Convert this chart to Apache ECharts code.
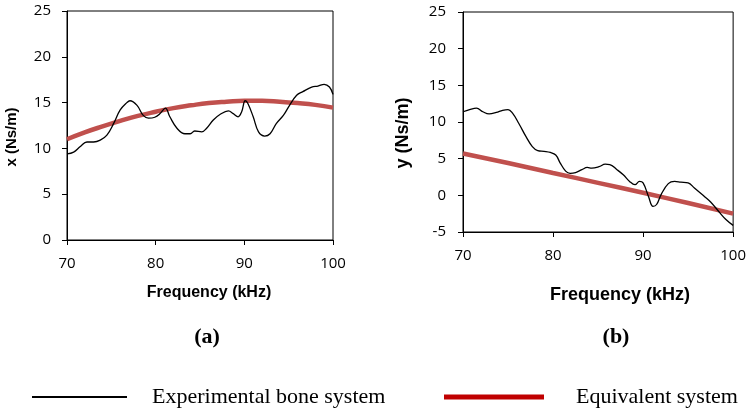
<!DOCTYPE html>
<html>
<head>
<meta charset="utf-8">
<script src="https://cdn.jsdelivr.net/npm/echarts@6/dist/echarts.min.js"></script>
<style>html,body{margin:0;padding:0;background:#fff}#c{width:749px;height:410px}</style>
</head>
<body>
<div id="c"></div>
<script>
// ---- data ----
var seriesNames = ['Experimental bone system', 'Equivalent system'];
var xTicks = [70, 80, 90, 100];

// (a) x (Ns/m)
var expFreqA = [70,70.75,71.5,72.25,73,73.75,74.5,75.25,76,76.75,77.1,77.9,78.6,79.2,79.9,80.5,81.1,81.6,82.4,83.3,83.9,84.4,85.2,85.75,86.5,87.25,88.2,88.75,89.3,89.7,90.1,90.4,91,91.6,92.3,92.9,93.6,94.4,95.1,95.9,96.6,97.6,98.3,99,99.6,100];
var expValA  = [9.4,9.6,10.2,10.7,10.7,10.9,11.45,12.7,14.2,15.0,15.2,14.7,13.6,13.3,13.4,13.8,14.4,13.45,12.2,11.6,11.6,11.9,11.8,12.2,13.1,13.7,14.1,13.8,13.45,14.0,15.2,14.9,13.45,11.8,11.35,11.6,12.7,13.6,14.7,15.8,16.2,16.7,16.8,17.0,16.7,15.9];
var eqFreqA  = [70,72,74,76,78,80,82,84,86,88,90,92,94,96,98,100];
var eqValA   = [11.0,11.75,12.4,13.0,13.55,14.0,14.4,14.7,14.95,15.1,15.2,15.2,15.1,14.95,14.75,14.45];

// (b) y (Ns/m)
var expFreqB = [70,70.73,71.5,72.2,72.9,73.7,74.4,75,75.5,76.2,77,77.7,78.3,79,79.7,80.3,80.8,81.4,81.9,82.5,83.2,83.8,84.3,85.1,85.8,86.3,87.1,87.8,88.5,89.1,89.6,90,90.6,91.1,91.5,92,92.8,93.5,94.2,95,95.7,96.8,97.5,98.4,99.2,100];
var expValB  = [11.4,11.7,11.9,11.4,11.1,11.3,11.6,11.7,11.2,9.8,8.0,6.65,6.1,6.0,5.85,5.5,4.4,3.3,3.0,3.1,3.5,3.8,3.7,3.9,4.25,4.2,3.5,2.8,1.9,1.45,1.9,1.7,-0.15,-1.5,-1.25,0.1,1.6,1.9,1.8,1.7,1.0,-0.15,-0.9,-2.2,-3.3,-4.1];
var eqFreqB  = [70,75,80,85,90,95,100];
var eqValB   = [5.7,4.4,3.05,1.7,0.35,-1.05,-2.5];

function pairs(xs, ys){ return xs.map(function(x,i){ return [x, ys[i]]; }); }

var tickFont = {color:'#000', fontSize:15, fontFamily:'Open Sans'};

function xAx(gi, margin){
  return {type:'value', gridIndex:gi, min:70, max:100, interval:10,
    axisLine:{show:true, onZero:false, lineStyle:{color:'#000', width:1}},
    axisTick:{show:true, inside:false, length:5, lineStyle:{color:'#000'}},
    axisLabel:Object.assign({margin:margin, showMaxLabel:true, showMinLabel:true}, tickFont),
    splitLine:{show:false}};
}
function yAx(gi, min, max, margin){
  return {type:'value', gridIndex:gi, min:min, max:max, interval:5,
    axisLine:{show:true, onZero:false, lineStyle:{color:'#000', width:1}},
    axisTick:{show:true, inside:false, length:5, lineStyle:{color:'#000'}},
    axisLabel:Object.assign({margin:margin}, tickFont),
    splitLine:{show:false}};
}

var blackStyle = {color:'#000', width:1.3};
var redStyle = {color:'#c0504d', width:4.5};

var chart = echarts.init(document.getElementById('c'), null, {renderer:'canvas'});
chart.setOption({
  animation:false,
  backgroundColor:'#fff',
  grid:[
    {left:67, top:11, width:266, height:229, show:true, borderColor:'#000', borderWidth:1, backgroundColor:'transparent'},
    {left:463, top:12, width:273, height:220, show:true, borderColor:'#000', borderWidth:1, backgroundColor:'transparent'}
  ],
  xAxis:[xAx(0, 16), xAx(1, 16)],
  yAxis:[yAx(0, 0, 25, 16), yAx(1, -5, 25, 17)],
  legend:[
    {left:27, top:381, selectedMode:false, itemWidth:95, itemHeight:2,
     textStyle:{fontFamily:'Liberation Serif', fontSize:22, color:'#000', padding:[0,0,0,20]},
     data:[{name:seriesNames[0], icon:'rect', itemStyle:{color:'#000'}}]},
    {left:439, top:381, selectedMode:false, itemWidth:100, itemHeight:5,
     textStyle:{fontFamily:'Liberation Serif', fontSize:22, color:'#000', padding:[0,0,0,27]},
     data:[{name:seriesNames[1], icon:'rect', itemStyle:{color:'#c00000'}}]}
  ],
  graphic:[
    {type:'text', x:209, y:293, style:{text:'Frequency (kHz)', font:'bold 16px "Liberation Sans"', fill:'#000', textAlign:'center', textVerticalAlign:'middle'}},
    {type:'text', x:620, y:295, style:{text:'Frequency (kHz)', font:'bold 18px "Liberation Sans"', fill:'#000', textAlign:'center', textVerticalAlign:'middle'}},
    {type:'text', x:12, y:137, rotation:Math.PI/2, style:{text:'x (Ns/m)', font:'bold 15px "Liberation Sans"', fill:'#000', textAlign:'center', textVerticalAlign:'middle'}},
    {type:'text', x:403, y:133, rotation:Math.PI/2, style:{text:'y (Ns/m)', font:'bold 18px "Liberation Sans"', fill:'#000', textAlign:'center', textVerticalAlign:'middle'}},
    {type:'text', x:207, y:337, style:{text:'(a)', font:'bold 22px "Liberation Serif"', fill:'#000', textAlign:'center', textVerticalAlign:'middle'}},
    {type:'text', x:616, y:337, style:{text:'(b)', font:'bold 22px "Liberation Serif"', fill:'#000', textAlign:'center', textVerticalAlign:'middle'}}
  ],
  series:[
    {name:seriesNames[0], type:'line', xAxisIndex:0, yAxisIndex:0, data:pairs(expFreqA, expValA), smooth:0.4, showSymbol:false, symbol:'none', lineStyle:blackStyle, itemStyle:{color:'#000'}, z:3},
    {name:seriesNames[1], type:'line', xAxisIndex:0, yAxisIndex:0, data:pairs(eqFreqA, eqValA), smooth:true, showSymbol:false, symbol:'none', lineStyle:redStyle, itemStyle:{color:'#c0504d'}, z:2},
    {name:seriesNames[0], type:'line', xAxisIndex:1, yAxisIndex:1, data:pairs(expFreqB, expValB), smooth:0.4, showSymbol:false, symbol:'none', lineStyle:blackStyle, itemStyle:{color:'#000'}, z:3},
    {name:seriesNames[1], type:'line', xAxisIndex:1, yAxisIndex:1, data:pairs(eqFreqB, eqValB), smooth:true, showSymbol:false, symbol:'none', lineStyle:redStyle, itemStyle:{color:'#c0504d'}, z:2}
  ]
});
</script>
</body>
</html>
